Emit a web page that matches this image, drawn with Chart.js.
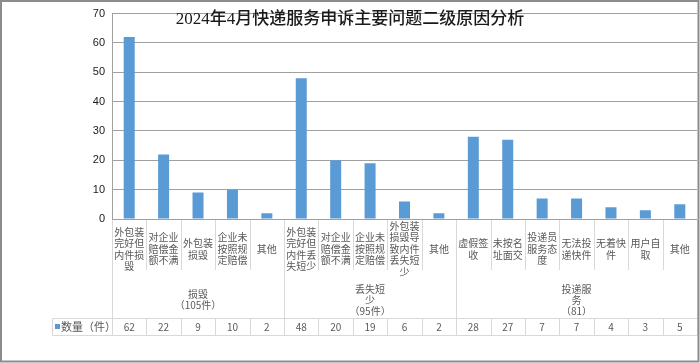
<!DOCTYPE html>
<html>
<head>
<meta charset="utf-8">
<script src="https://cdn.jsdelivr.net/npm/chart.js@4/dist/chart.umd.min.js"></script>
<style>
html,body{margin:0;padding:0;background:#fff;}
canvas{display:block;}
</style>
</head>
<body>
<canvas id="c" width="700" height="363"></canvas>
<script>
const chartTitle = "2024年4月快递服务申诉主要问题二级原因分析";
const categories = [
  "外包装完好但内件损毁","对企业赔偿金额不满","外包装损毁","企业未按照规定赔偿","其他",
  "外包装完好但内件丢失短少","对企业赔偿金额不满","企业未按照规定赔偿","外包装损毁导致内件丢失短少","其他",
  "虚假签收","未按名址面交","投递员服务态度","无法投递快件","无着快件","用户自取","其他"
];
const categoryLines = [
  ["外包装","完好但","内件损","毁"],["对企业","赔偿金","额不满"],["外包装","损毁"],["企业未","按照规","定赔偿"],["其他"],
  ["外包装","完好但","内件丢","失短少"],["对企业","赔偿金","额不满"],["企业未","按照规","定赔偿"],["外包装","损毁导","致内件","丢失短","少"],["其他"],
  ["虚假签","收"],["未按名","址面交"],["投递员","服务态","度"],["无法投","递快件"],["无着快","件"],["用户自","取"],["其他"]
];
const counts = [62,22,9,10,2,48,20,19,6,2,28,27,7,7,4,3,5];
const groupLines = [["损毁","（105件）"],["丢失短","少","（95件）"],["投递服","务","（81）"]];
const groupSizes = [5,5,7];
const seriesName = "数量（件）";
const yTicks = [0,10,20,30,40,50,60,70];

const BAR = "#5b9bd5";
const CJK = "'Noto Sans CJK SC','Noto Sans',sans-serif";

const tablePlugin = {
  id: 'tablePlugin',
  afterDraw(chart) {
    const ctx = chart.ctx;
    const x = chart.scales.x;
    const a = chart.chartArea;
    const n = categories.length;
    const centers = categories.map((_, i) => x.getPixelForValue(i));
    const bounds = [a.left];
    for (let i = 0; i < n - 1; i++) bounds.push((centers[i] + centers[i+1]) / 2);
    bounds.push(a.right);
    const yTop = a.bottom + 1, yCatEnd = 270, yRowTop = 318.5, yRowBot = 335.5, xLeg = 52.5;
    ctx.save();
    ctx.strokeStyle = "#d9d9d9";
    ctx.lineWidth = 1;
    const gb = [0]; groupSizes.reduce((s, g) => { gb.push(s + g); return s + g; }, 0);
    ctx.beginPath();
    for (let i = 0; i <= n; i++) {
      const bx = Math.round(bounds[i]) + 0.5;
      if (gb.includes(i)) { ctx.moveTo(bx, yTop); ctx.lineTo(bx, yRowBot); }
      else { ctx.moveTo(bx, yTop); ctx.lineTo(bx, yCatEnd); ctx.moveTo(bx, yRowTop); ctx.lineTo(bx, yRowBot); }
    }
    ctx.moveTo(xLeg, yRowTop); ctx.lineTo(a.right, yRowTop);
    ctx.moveTo(xLeg, yRowBot); ctx.lineTo(a.right, yRowBot);
    ctx.moveTo(xLeg, yRowTop); ctx.lineTo(xLeg, yRowBot);
    ctx.stroke();

    ctx.fillStyle = "#595959";
    ctx.font = "10px " + CJK;
    ctx.textAlign = "center";
    ctx.textBaseline = "middle";
    const lh = 11.5;
    categoryLines.forEach((lines, i) => {
      const start = 249 - (lines.length - 1) * lh / 2;
      lines.forEach((t, k) => ctx.fillText(t, centers[i], start + k * lh));
    });
    groupLines.forEach((lines, g) => {
      const cx = (bounds[gb[g]] + bounds[gb[g+1]]) / 2;
      const start = 300 - (lines.length - 1) * 11 / 2;
      lines.forEach((t, k) => ctx.fillText(t, cx, start + k * 11));
    });
    counts.forEach((v, i) => ctx.fillText(String(v), centers[i], 327.5));
    ctx.fillStyle = BAR;
    ctx.fillRect(55, 324, 5, 5);
    ctx.fillStyle = "#595959";
    ctx.textAlign = "left";
    ctx.font = "11px " + CJK;
    ctx.fillText(seriesName, 61, 327);

    ctx.fillStyle = "#1a1a1a";
    ctx.textAlign = "center";
    ctx.font = "500 17px 'Liberation Serif','Noto Sans CJK SC',serif";
    ctx.fillText(chartTitle, 350, 20);

    ctx.strokeStyle = "#8c8c8c";
    ctx.lineWidth = 2;
    ctx.strokeRect(1, 1, 697.5, 360.5);
    ctx.restore();
  }
};

new Chart(document.getElementById('c'), {
  type: 'bar',
  data: {
    labels: categories,
    datasets: [{
      label: seriesName,
      data: counts,
      backgroundColor: BAR,
      borderWidth: 0,
      barPercentage: 0.32,
      categoryPercentage: 1
    }]
  },
  options: {
    responsive: false,
    animation: false,
    devicePixelRatio: 1,
    layout: { padding: { left: 0, top: 9, right: 3, bottom: 144 } },
    plugins: { legend: { display: false }, title: { display: false }, tooltip: { enabled: false } },
    scales: {
      x: { display: false, offset: true },
      y: {
        min: 0, max: 70,
        afterFit(s) { s.width = 112; },
        afterBuildTicks(s) { s.ticks = yTicks.map(v => ({ value: v })); },
        grid: { color: "#a0a0a0", drawTicks: false, lineWidth: 1 },
        border: { color: "#a0a0a0" },
        ticks: { padding: 7, color: "#1a1a1a", font: { family: "Arial, 'Liberation Sans'", size: 11 } }
      }
    }
  },
  plugins: [tablePlugin]
});
</script>
</body>
</html>
